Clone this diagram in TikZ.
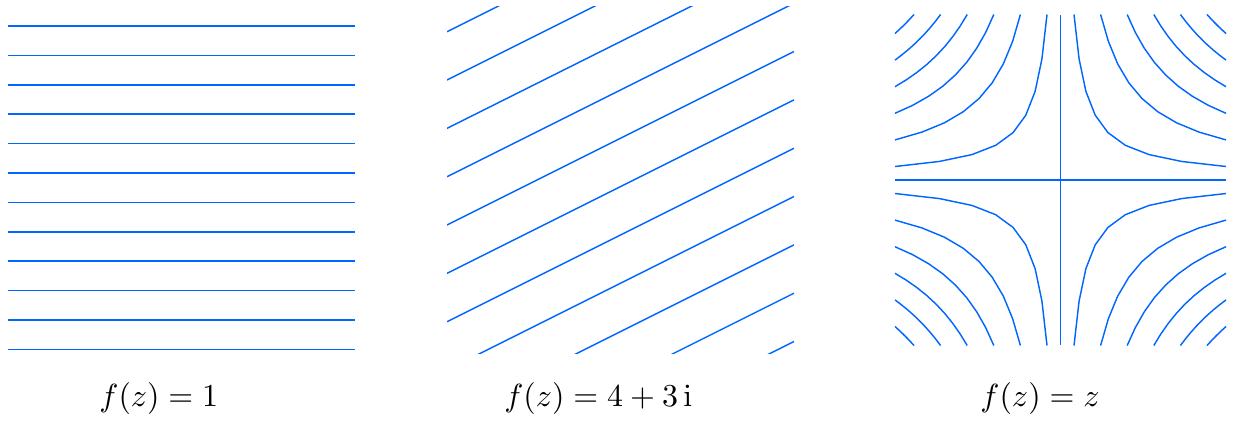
\documentclass[tikz,border=0pt]{standalone}
\usepackage{amsmath}
\usepackage{tikz}
\usetikzlibrary{positioning}
\definecolor{fieldblue}{HTML}{0066FF}
\tikzset{
  streamline/.style={draw=fieldblue, line width=0.45pt},
  caption/.style={anchor=base, inner sep=0pt}
}

\begin{document}
\begin{tikzpicture}[x=0.011cm, y=-0.011cm]
  \useasboundingbox (0,0) rectangle (1233,420);
  % f(z) = 1
  \foreach \k in {0,...,11}
    \draw[streamline] (8,{26+29.4*\k}) -- (355,{26+29.4*\k});
  % f(z) = 4 + 3i
  \begin{scope}
    \clip (447,6.7) rectangle (794,353.3);
    \foreach \k in {0,...,10}
      \draw[streamline] (447,{31.7+48.33*\k}) -- (794,{31.7+48.33*\k-173.5});
  \end{scope}
  % f(z) = z
  \draw[streamline] (895,180) -- (1226,180);
  \draw[streamline] (1060.5,15) -- (1060.5,345);
  \foreach \sx/\sy in {1/1,1/-1,-1/1,-1/-1}
    \foreach \k in {0,...,5}
      \draw[streamline] plot[domain=0:1, samples=9, variable=\s]
        ({1060.5+\sx*165.5*pow((13.5+26.6*\k)/165.5,\s)},
         {180+\sy*165.5*pow((13.5+26.6*\k)/165.5,1-\s)});
  \node[caption] (cone) at (158.8,406) {$f(z)=1$};
  \node[caption] (ctwo) at (598.3,406) {$f(z)=4+3\,\mathrm{i}$};
  \node[caption] (cthree) at (1040,406) {$f(z)=z$};
\end{tikzpicture}
\end{document}
